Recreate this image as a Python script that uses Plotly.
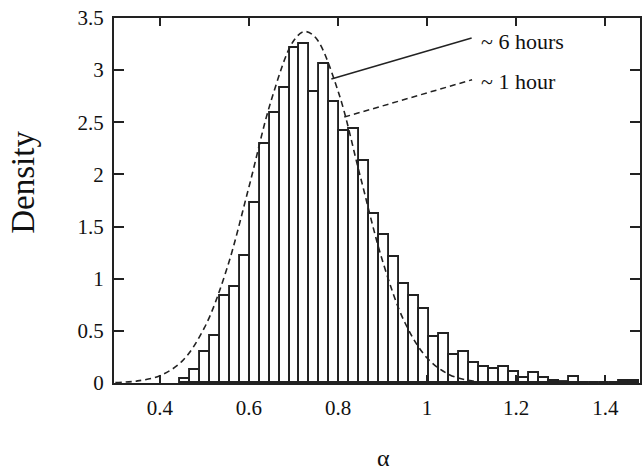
import plotly.graph_objects as go

# Histogram (≈6 hours run): bin definition and densities
bin_start = 0.4448
bin_width = 0.02239
density = [0.04, 0.12, 0.30, 0.45, 0.83, 0.92, 1.22, 1.73, 2.29, 2.59,
           2.83, 3.21, 3.25, 2.79, 3.06, 2.69, 2.42, 2.44, 2.13, 1.62,
           1.42, 1.21, 0.95, 0.83, 0.71, 0.44, 0.47, 0.27, 0.30, 0.19,
           0.15, 0.13, 0.15, 0.105, 0.05, 0.10, 0.05, 0.02, 0.01, 0.06,
           0.0, 0.0, 0.0, 0.0, 0.02, 0.02]

# Dashed density curve (≈1 hour run)
curve_x = [0.30, 0.35, 0.40, 0.45, 0.50, 0.55, 0.60, 0.65, 0.70, 0.725,
           0.75, 0.80, 0.85, 0.90, 0.95, 1.00, 1.05, 1.10, 1.15, 1.20]
curve_y = [0.005, 0.02, 0.07, 0.21, 0.53, 1.09, 1.88, 2.71, 3.28, 3.37,
           3.31, 2.80, 1.98, 1.17, 0.58, 0.24, 0.08, 0.02, 0.005, 0.0]

x_ticks = [0.4, 0.6, 0.8, 1.0, 1.2, 1.4]
x_tick_text = ["0.4", "0.6", "0.8", "1", "1.2", "1.4"]
y_ticks = [0, 0.5, 1, 1.5, 2, 2.5, 3, 3.5]
y_tick_text = ["0", "0.5", "1", "1.5", "2", "2.5", "3", "3.5"]

centers = [bin_start + bin_width * (i + 0.5) for i in range(len(density))]

FONT = "Liberation Serif"

fig = go.Figure()
fig.add_trace(go.Bar(
    x=centers, y=density, width=bin_width,
    marker=dict(color="white", line=dict(color="#222", width=1.9)),
    showlegend=False, hoverinfo="skip"))
fig.add_trace(go.Scatter(
    x=curve_x, y=curve_y, mode="lines", line_shape="spline",
    line=dict(color="#222", width=1.6, dash="6px,4px"),
    showlegend=False, hoverinfo="skip"))

# leader lines to the labels
fig.add_shape(type="line", x0=0.785, y0=2.915, x1=1.100, y1=3.308,
              line=dict(color="#222", width=1.5))
fig.add_shape(type="line", x0=0.814, y0=2.55, x1=1.101, y1=2.908,
              line=dict(color="#222", width=1.5, dash="6px,4px"))
fig.add_annotation(x=1.116, y=3.27, text="~ 6 hours", showarrow=False,
                   xanchor="left", yanchor="middle",
                   font=dict(family=FONT, size=22, color="#111"))
fig.add_annotation(x=1.116, y=2.895, text="~ 1 hour", showarrow=False,
                   xanchor="left", yanchor="middle",
                   font=dict(family=FONT, size=22, color="#111"))

# axis titles
fig.add_annotation(xref="paper", yref="paper", x=-0.172, y=0.55,
                   text="Density", textangle=-90, showarrow=False,
                   xanchor="center", yanchor="middle",
                   font=dict(family=FONT, size=33, color="#111"))
fig.add_annotation(xref="paper", yref="paper", x=0.513, y=-0.205,
                   text="α", showarrow=False,
                   xanchor="center", yanchor="middle",
                   font=dict(family=FONT, size=24, color="#111"))

axis_common = dict(showgrid=False, zeroline=False, showline=True,
                   linecolor="#222", linewidth=2, mirror="allticks",
                   ticks="inside", tickcolor="#222", tickwidth=1.5,
                   tickfont=dict(family=FONT, size=21, color="#111"))

fig.update_layout(
    width=643, height=474,
    margin=dict(l=114, r=1, t=18, b=91),
    paper_bgcolor="white", plot_bgcolor="white",
    bargap=0,
    xaxis=dict(range=[0.297, 1.478], tickvals=x_ticks, ticktext=x_tick_text,
               ticklen=8, ticklabelstandoff=5, **axis_common),
    yaxis=dict(range=[0, 3.5], tickvals=y_ticks, ticktext=y_tick_text,
               ticklen=10, ticklabelstandoff=4, **axis_common),
)

fig.write_html("out.html")
